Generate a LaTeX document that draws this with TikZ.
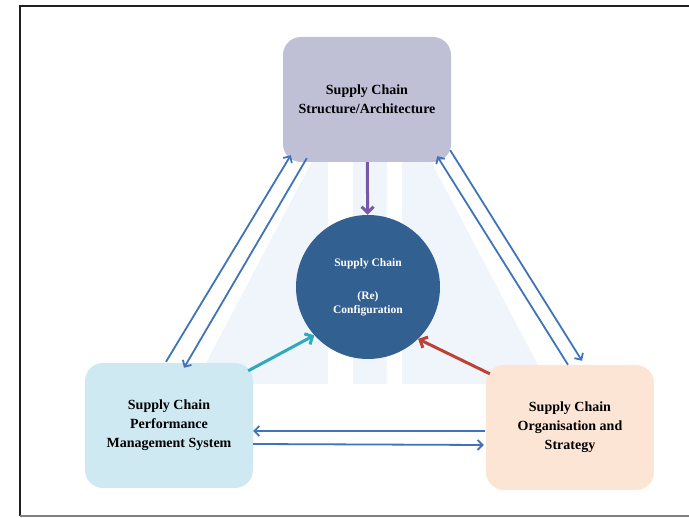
\documentclass[tikz,border=0pt]{standalone}
\usepackage{fontspec}
\setmainfont{Liberation Serif}
\usetikzlibrary{arrows.meta}

\definecolor{archfill}{RGB}{191,191,214}
\definecolor{perffill}{RGB}{207,233,243}
\definecolor{orgfill}{RGB}{252,229,212}
\definecolor{hubblue}{RGB}{50,96,145}
\definecolor{linkblue}{RGB}{65,115,185}
\definecolor{archarrow}{RGB}{118,88,165}
\definecolor{perfarrow}{RGB}{45,170,190}
\definecolor{orgarrow}{RGB}{190,65,55}
\definecolor{backdrop}{RGB}{239,245,250}
\definecolor{framedark}{RGB}{35,31,32}

\begin{document}
\begin{tikzpicture}[x=1pt,y=-1pt,
    box/.style={rounded corners=18pt, minimum width=168pt, minimum height=125pt,
        inner sep=0pt, align=center, font=\bfseries\fontsize{14}{19}\selectfont},
    link/.style={draw=linkblue, line width=1.8pt, -{Straight Barb[length=5pt,width=10pt]}},
    feed/.style={draw=#1, line width=3pt, -{Straight Barb[length=6pt,width=12pt]}},
]
    \useasboundingbox (0,0) rectangle (689,518);
    % frame
    \draw [line width=2.5pt, color=framedark] (689,6) -- (20,6) -- (20,516);
    \draw [line width=2pt, color=gray] (20,516) -- (689,516);

    % pale backdrop
    \fill [backdrop] (318,150) -- (328,150) -- (328,384) -- (195,384) -- cycle;
    \fill [backdrop] (353,150) rectangle (387,384);
    \fill [backdrop] (402,150) -- (425,150) -- (548,384) -- (402,384) -- cycle;

    \node [box, fill=archfill] (arch) at (367,99.5) {Supply Chain\\Structure/Architecture};
    \node [box, fill=perffill] (perf) at (169,425.5) {Supply Chain\\Performance\\Management System};
    \node [box, fill=orgfill] (org) at (570,427.5) {Supply Chain\\Organisation and\\Strategy};
    \node [circle, minimum size=144pt, inner sep=0pt, fill=hubblue, text=white, align=center,
        font=\bfseries\fontsize{11.5}{14}\selectfont] (hub) at (368,287)
        {Supply Chain\\[19pt](Re)\\Configuration};

    \draw [feed=archarrow] (arch) -- (hub);
    \draw [feed=perfarrow] ([shift={(-5,8)}]perf.north east) -- (hub.222);
    \draw [feed=orgarrow] ([shift={(4,9)}]org.north west) -- (hub.314);

    % two-way links
    \draw [link] ([shift={(-3,-1)}]perf.north) -- ([shift={(8,-7)}]arch.south west);
    \draw [link] ([shift={(24,-4)}]arch.south west) -- ([shift={(15,5)}]perf.north);
    \draw [link] ([shift={(-1,-12)}]arch.south east) -- ([shift={(12,-4)}]org.north);
    \draw [link] ([shift={(-2,0)}]org.north) -- ([shift={(-14,-6)}]arch.south east);
    \draw [link] ([shift={(-1,3.5)}]org.west) -- ([shift={(0,5.5)}]perf.east);
    \draw [link] ([shift={(0,18.5)}]perf.east) -- ([shift={(-2,17.5)}]org.west);
\end{tikzpicture}
\end{document}
